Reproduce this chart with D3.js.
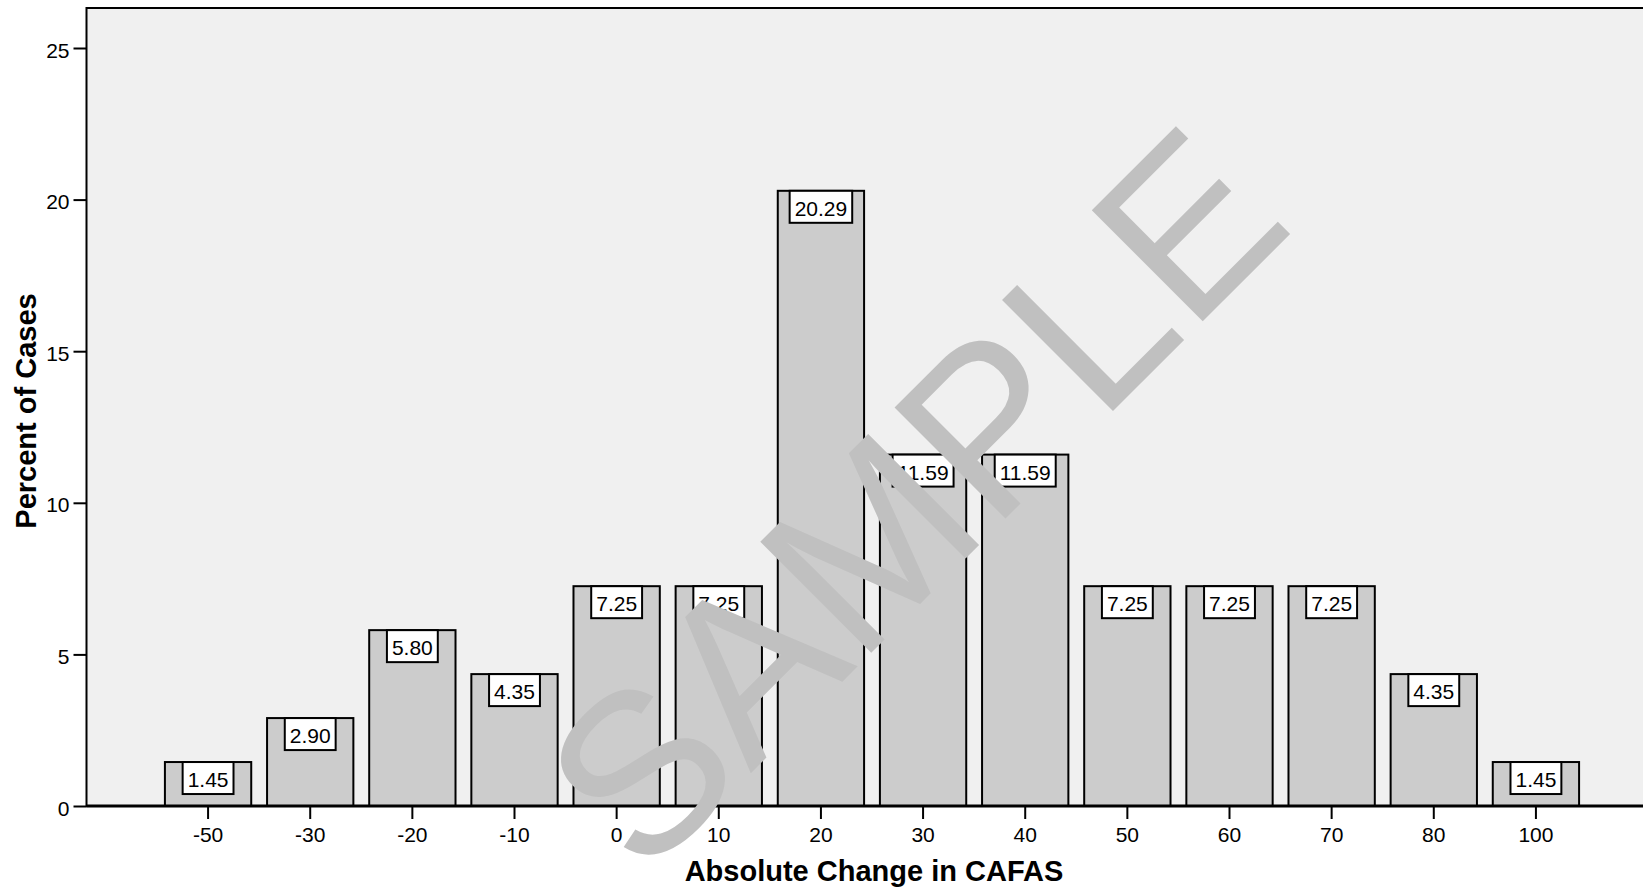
<!DOCTYPE html>
<html>
<head>
<meta charset="utf-8">
<script src="https://cdn.jsdelivr.net/npm/d3@7"></script>
<style>
  html, body { margin: 0; padding: 0; background: #ffffff; }
  svg { display: block; font-family: "Liberation Sans", Arial, sans-serif; }
</style>
</head>
<body>
<script>
const categories = ["-50", "-30", "-20", "-10", "0", "10", "20", "30", "40", "50", "60", "70", "80", "100"];
const percents = [1.45, 2.90, 5.80, 4.35, 7.25, 7.25, 20.29, 11.59, 11.59, 7.25, 7.25, 7.25, 4.35, 1.45];
const yTicks = [0, 5, 10, 15, 20, 25];
const xTitle = "Absolute Change in CAFAS";
const yTitle = "Percent of Cases";
const watermark = "SAMPLE";

const W = 1643, H = 887;
const frame = { left: 86.5, top: 8, right: 1660, bottom: 806 };

const svg = d3.select("body").append("svg").attr("width", W).attr("height", H);

const x = d3.scaleBand().domain(categories).range([157, 1587])
  .paddingInner(0.155).paddingOuter(0.0775);
const y = d3.scaleLinear().domain([0, 25]).range([frame.bottom, 48]);

// plot background + frame
svg.append("rect")
  .attr("x", frame.left).attr("y", frame.top)
  .attr("width", frame.right - frame.left).attr("height", frame.bottom - frame.top)
  .attr("fill", "#f0f0f0").attr("stroke", "#000").attr("stroke-width", 2);

const data = categories.map((c, i) => ({ c, v: percents[i] }));

// bars
svg.append("g").selectAll("rect").data(data).join("rect")
  .attr("x", d => x(d.c)).attr("y", d => y(d.v))
  .attr("width", x.bandwidth()).attr("height", d => y(0) - y(d.v))
  .attr("fill", "#cccccc").attr("stroke", "#000").attr("stroke-width", 2);

// value labels
const lab = svg.append("g").selectAll("g").data(data).join("g")
  .attr("transform", d => `translate(${x(d.c) + x.bandwidth() / 2},${y(d.v)})`);
lab.append("text")
  .attr("text-anchor", "middle").attr("y", 25)
  .attr("font-size", 21).attr("fill", "#000")
  .text(d => d.v.toFixed(2));
lab.each(function() {
  const g = d3.select(this);
  const t = g.select("text");
  const w = t.node().getComputedTextLength() + 10;
  g.insert("rect", "text")
    .attr("x", -w / 2).attr("y", 0).attr("width", w).attr("height", 32)
    .attr("fill", "#fff").attr("stroke", "#000").attr("stroke-width", 2);
});

// y axis
const yAxis = svg.append("g").attr("transform", `translate(${frame.left},0)`)
  .call(d3.axisLeft(y).tickValues(yTicks).tickSize(13).tickPadding(4).tickFormat(d3.format("d")));
yAxis.select(".domain").remove();
yAxis.selectAll(".tick line").attr("stroke", "#000").attr("stroke-width", 2);
yAxis.selectAll(".tick text").attr("font-size", 21).attr("fill", "#000")
  .attr("font-family", "Liberation Sans, Arial, sans-serif").attr("dy", 9);

// x axis
const xAxis = svg.append("g").attr("transform", `translate(0,${frame.bottom})`)
  .call(d3.axisBottom(x).tickSize(13).tickPadding(0));
xAxis.select(".domain").remove();
xAxis.selectAll(".tick line").attr("stroke", "#000").attr("stroke-width", 2);
xAxis.selectAll(".tick text").attr("font-size", 21).attr("fill", "#000")
  .attr("font-family", "Liberation Sans, Arial, sans-serif").attr("y", 36).attr("dy", 0);

// axis line at zero
svg.append("line")
  .attr("x1", frame.left).attr("x2", W).attr("y1", y(0)).attr("y2", y(0))
  .attr("stroke", "#000").attr("stroke-width", 3);

// titles
svg.append("text")
  .attr("x", 874).attr("y", 881)
  .attr("text-anchor", "middle").attr("font-size", 29).attr("font-weight", "bold")
  .attr("fill", "#000").text(xTitle);
svg.append("text")
  .attr("transform", "translate(36,411) rotate(-90)")
  .attr("text-anchor", "middle").attr("font-size", 29).attr("font-weight", "bold")
  .attr("fill", "#000").text(yTitle);

// watermark
svg.append("text")
  .attr("transform", "translate(970,554) rotate(-45)")
  .attr("text-anchor", "middle").attr("font-size", 228)
  .attr("fill", "#c0c0c0").text(watermark);
</script>
</body>
</html>
